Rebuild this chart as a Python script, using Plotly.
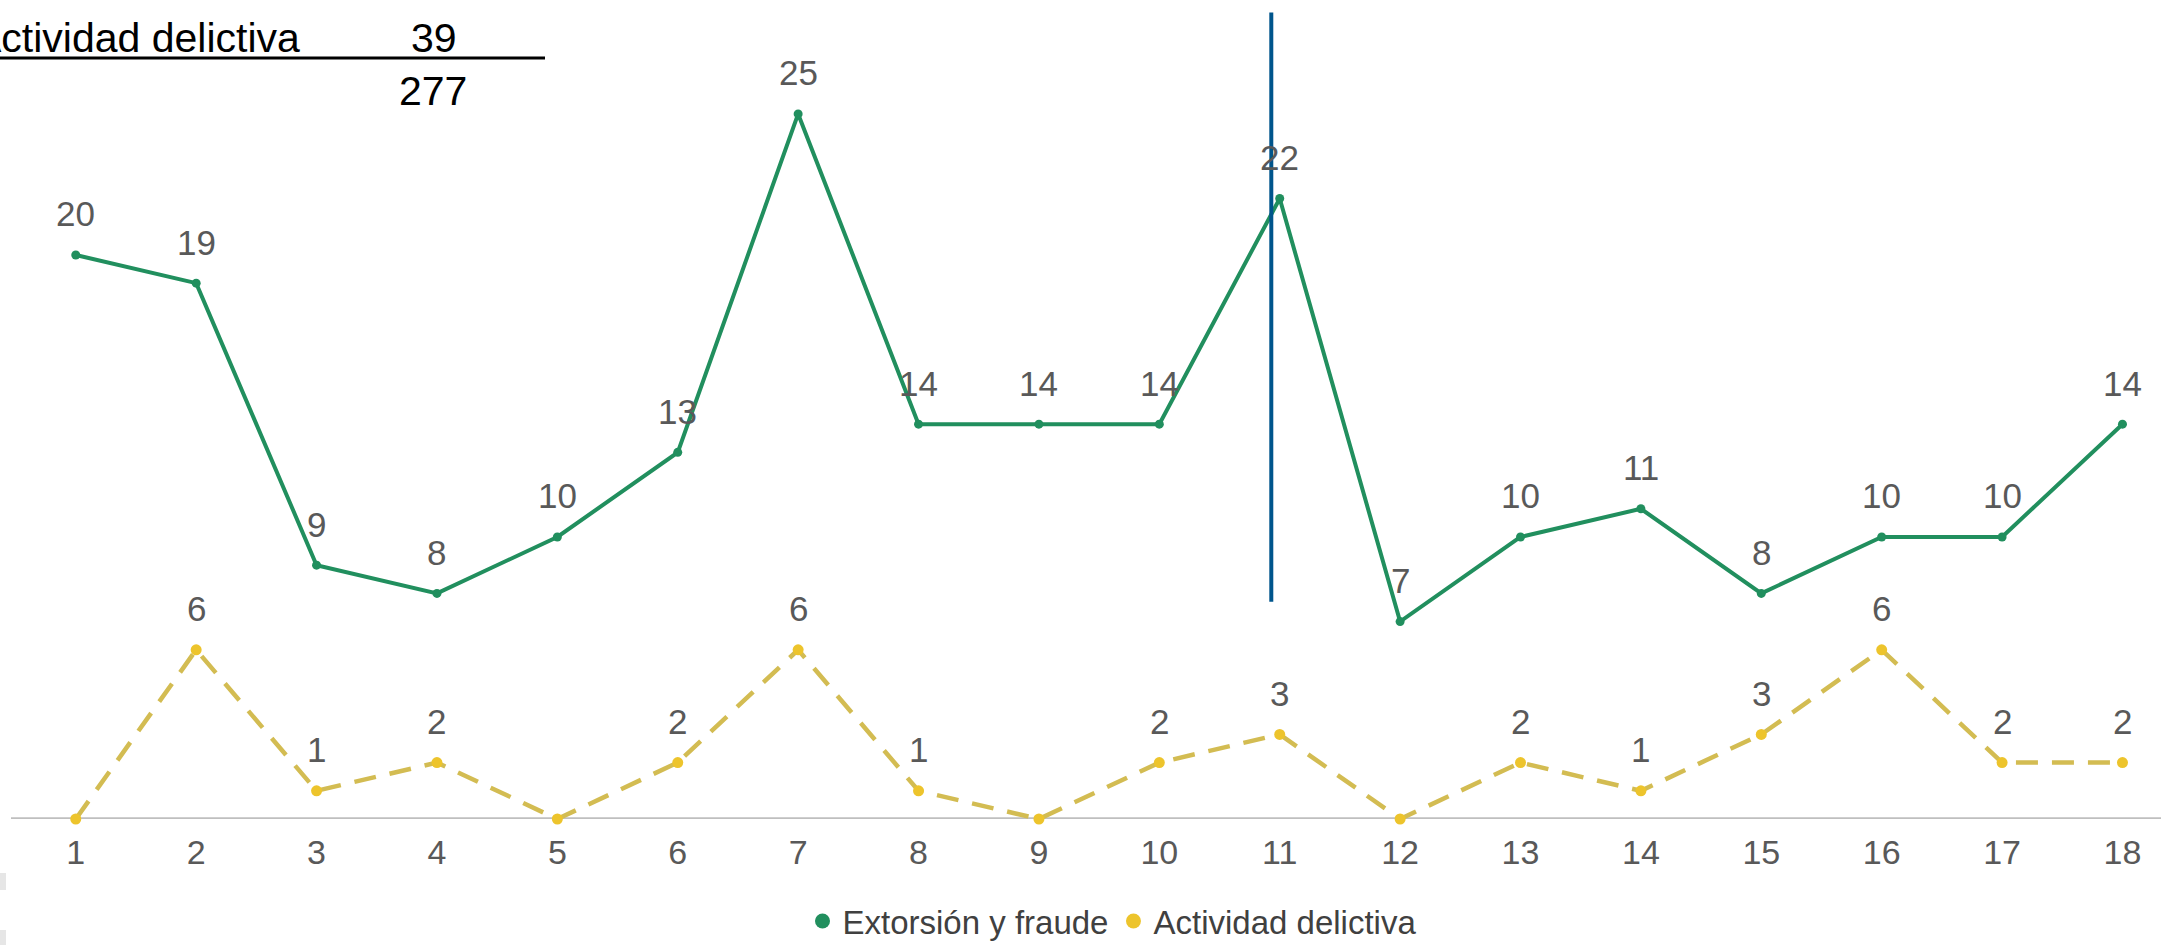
import plotly.graph_objects as go

periods = list(range(1, 19))
extorsion = [20, 19, 9, 8, 10, 13, 25, 14, 14, 14, 22, 7, 10, 11, 8, 10, 10, 14]
actividad = [0, 6, 1, 2, 0, 2, 6, 1, 0, 2, 3, 0, 2, 1, 3, 6, 2, 2]
series_names = ["Extorsión y fraude", "Actividad delictiva"]
summary_label = "Actividad delictiva"
summary_value = 39
summary_total = 277
marker_period = 10.93

GREEN = "#218F5E"
YELLOW_LINE = "#D3BC52"
YELLOW_MARK = "#EDC42C"
FONT = "Liberation Sans, Arial, sans-serif"

W, H = 2161, 945
ML, MB = 11, 126
PW, PH = W - ML, H - MB


def px_x(px):
    return (px - ML) / PW


def px_y(py):
    return (PH - py) / PH


fig = go.Figure()
fig.add_trace(go.Scatter(
    x=periods, y=extorsion, mode="lines+markers", showlegend=False, cliponaxis=False,
    line=dict(color=GREEN, width=4), marker=dict(size=9, color=GREEN),
))
fig.add_trace(go.Scatter(
    x=periods, y=actividad, mode="lines+markers", showlegend=False, cliponaxis=False,
    line=dict(color=YELLOW_LINE, width=4.5, dash="22px,14px"), marker=dict(size=11, color=YELLOW_MARK),
))
# legend entries show only the marker
for name, col in zip(series_names, [GREEN, YELLOW_MARK]):
    fig.add_trace(go.Scatter(x=[None], y=[None], mode="markers", name=name,
                             marker=dict(size=15, color=col)))

label_font = dict(family=FONT, size=35, color="#595959")
for x, v in zip(periods, extorsion):
    fig.add_annotation(x=x, y=v, text=str(v), showarrow=False, yshift=41, font=label_font)
for x, v in zip(periods, actividad):
    if v:
        fig.add_annotation(x=x, y=v, text=str(v), showarrow=False, yshift=41, font=label_font)

# baseline and divider
fig.add_shape(type="line", xref="paper", yref="y", x0=0, x1=1, y0=0, y1=0,
              line=dict(color="#BFBFBF", width=3.5), layer="below")
fig.add_shape(type="line", xref="x", yref="y", x0=marker_period, x1=marker_period, y0=7.7, y1=28.6,
              line=dict(color="#00558C", width=4))

# summary table fragment at top-left
top_font = dict(family=FONT, size=41, color="#000000")
fig.add_annotation(xref="paper", yref="paper", x=px_x(302), y=px_y(38), xanchor="right", yanchor="middle",
                   text=summary_label, showarrow=False, font=top_font)
fig.add_annotation(xref="paper", yref="paper", x=px_x(434), y=px_y(38), xanchor="center", yanchor="middle",
                   text=str(summary_value), showarrow=False, font=top_font)
fig.add_annotation(xref="paper", yref="paper", x=px_x(433), y=px_y(91), xanchor="center", yanchor="middle",
                   text=str(summary_total), showarrow=False, font=top_font)
fig.add_shape(type="line", xref="paper", yref="paper", x0=px_x(-20), x1=px_x(545),
              y0=px_y(58), y1=px_y(58), line=dict(color="#000000", width=3))

# faint grey slivers at the left edge
for y0, y1 in [(873, 890), (930, 945)]:
    fig.add_shape(type="rect", xref="paper", yref="paper", x0=px_x(0), x1=px_x(6),
                  y0=px_y(y1), y1=px_y(y0), fillcolor="#E6E6E6", line=dict(width=0))

fig.update_layout(
    width=W, height=H,
    margin=dict(l=ML, r=0, t=0, b=MB, pad=0, autoexpand=False),
    plot_bgcolor="white", paper_bgcolor="white",
    font=dict(family=FONT),
    legend=dict(orientation="h", x=px_x(1112), xanchor="center", y=px_y(921), yanchor="middle",
                font=dict(family=FONT, size=33, color="#404040"), itemwidth=30),
)
fig.update_xaxes(range=[0.462, 18.32], tickmode="array", tickvals=periods, automargin=False,
                 showgrid=False, zeroline=False, showline=False,
                 ticks="outside", ticklen=3, tickcolor="rgba(0,0,0,0)",
                 tickfont=dict(family=FONT, size=34, color="#595959"))
fig.update_yaxes(range=[0, 29.04], visible=False, automargin=False)

fig.write_html("out.html", config={"displayModeBar": False},
               post_script="document.body.style.margin='0';")
